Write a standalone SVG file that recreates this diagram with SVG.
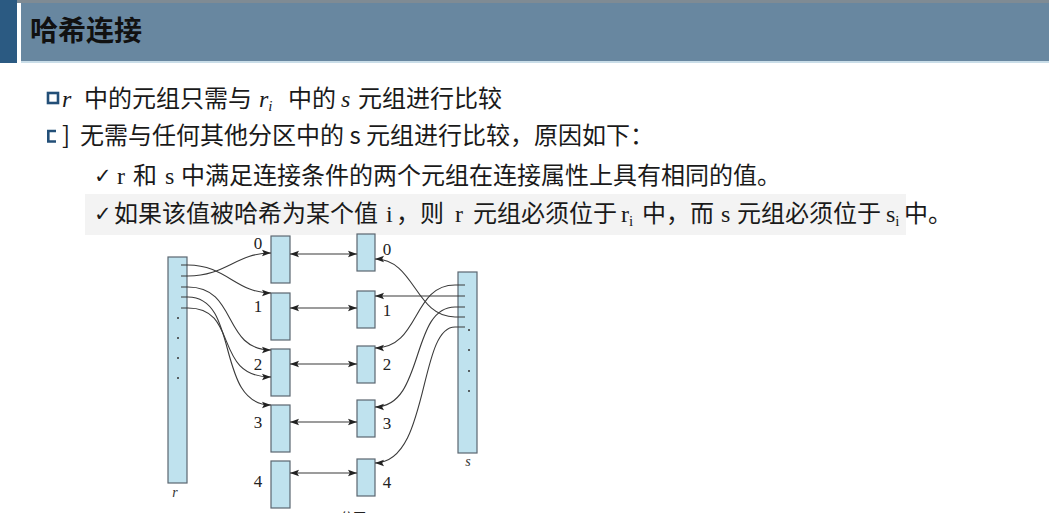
<svg xmlns="http://www.w3.org/2000/svg" width="1049" height="513" viewBox="0 0 1049 513">
  <style>
    .title { font-family: "Noto Sans CJK SC", "Noto Sans", sans-serif; font-weight: bold; font-size: 28px; fill: #111; }
    .body { font-family: "Noto Sans CJK SC", "Noto Sans", sans-serif; font-size: 24px; fill: #1a1a1a; }
    .math { font-family: "Liberation Serif", "DejaVu Serif", serif; font-style: italic; font-size: 24px; fill: #1a1a1a; }
    .rm { font-family: "Liberation Serif", "DejaVu Serif", serif; font-size: 24px; fill: #1a1a1a; }
    .sub { font-size: 15px; }
    .check { font-family: "DejaVu Sans", sans-serif; font-size: 21px; fill: #1a1a1a; }
    .bucket { fill: #bfe2ee; stroke: #5b6670; stroke-width: 1.2; }
    .num { font-family: "Liberation Serif", "DejaVu Serif", serif; font-size: 17px; fill: #222; text-anchor: middle; }
    .rel { font-family: "Liberation Serif", "DejaVu Serif", serif; font-style: italic; font-size: 14px; fill: #333; text-anchor: middle; }
    .link { fill: none; stroke: #3a3a3a; stroke-width: 1.1; }
  </style>
  <defs>
    <marker id="head" markerUnits="userSpaceOnUse" markerWidth="10" markerHeight="8" refX="9" refY="4" orient="auto-start-reverse">
      <path d="M0,0.8 L9,4 L0,7.2 L1.8,4 z" fill="#222"/>
    </marker>
  </defs>

  <rect width="1049" height="513" fill="#ffffff"/>

  <!-- header bar -->
  <g id="header">
    <rect x="0" y="0" width="1049" height="3" fill="#7f8b94"/>
    <rect x="21" y="3" width="1028" height="58" fill="#6887a0"/>
    <rect x="21" y="61" width="1028" height="2" fill="#c9dde8"/>
    <rect x="0" y="0" width="17" height="63" fill="#2b5a82"/>
    <text class="title" x="30" y="41">哈希连接</text>
  </g>

  <!-- bullet text -->
  <g id="bullets">
    <rect x="48" y="93" width="10" height="10" fill="none" stroke="#234f78" stroke-width="2.6"/>
    <text class="math" x="62" y="107">r</text>
    <text class="body" x="84" y="107">中的元组只需与</text>
    <text class="math" x="259" y="107">r<tspan class="sub" dy="4">i</tspan></text>
    <text class="body" x="288" y="107">中的</text>
    <text class="math" x="341" y="107">s</text>
    <text class="body" x="358" y="107">元组进行比较</text>

    <path d="M56,131 H48.3 V141.5 H56" fill="none" stroke="#234f78" stroke-width="2.6"/>
    <text class="body" x="62" y="144">]</text>
    <text class="body" x="80" y="144">无需与任何其他分区中的 s 元组进行比较，原因如下：</text>

    <text class="check" x="94" y="183">✓</text>
    <text class="rm" x="117" y="184">r</text>
    <text class="body" x="133" y="184">和</text>
    <text class="rm" x="165" y="184">s</text>
    <text class="body" x="181" y="184">中满足连接条件的两个元组在连接属性上具有相同的值。</text>

    <rect x="85" y="194" width="821" height="41" fill="#f3f3f3"/>
    <text class="check" x="94" y="221">✓</text>
    <text class="body" x="114" y="222">如果该值被哈希为某个值</text>
    <text class="rm" x="386" y="222">i</text>
    <text class="body" x="396" y="222">，则</text>
    <text class="rm" x="455" y="222">r</text>
    <text class="body" x="473" y="222">元组必须位于</text>
    <text class="rm" x="621" y="222">r<tspan class="sub" dy="4">i</tspan></text>
    <text class="body" x="642" y="222">中，而</text>
    <text class="rm" x="721" y="222">s</text>
    <text class="body" x="737" y="222">元组必须位于</text>
    <text class="rm" x="886" y="222">s<tspan class="sub" dy="4">i</tspan></text>
    <text class="body" x="904" y="222">中。</text>
  </g>

  <!-- relation r -->
  <g id="rel-r">
    <rect class="bucket" x="168" y="257" width="19" height="226"/>
    <g fill="#333">
      <circle cx="178" cy="318" r="1"/>
      <circle cx="178" cy="338" r="1"/>
      <circle cx="178" cy="358" r="1"/>
      <circle cx="178" cy="378" r="1"/>
    </g>
    <text class="rel" x="175" y="497">r</text>
  </g>

  <!-- relation s -->
  <g id="rel-s">
    <rect class="bucket" x="458" y="272" width="19" height="181"/>
    <g fill="#333">
      <circle cx="469" cy="330" r="1"/>
      <circle cx="469" cy="350" r="1"/>
      <circle cx="469" cy="371" r="1"/>
      <circle cx="469" cy="391" r="1"/>
    </g>
    <text class="rel" x="468" y="466">s</text>
  </g>

  <!-- partitions of r -->
  <g id="r0"><rect class="bucket" x="271" y="236" width="19" height="47"/><text class="num" x="258" y="249">0</text></g>
  <g id="r1"><rect class="bucket" x="271" y="293" width="19" height="47"/><text class="num" x="258" y="312">1</text></g>
  <g id="r2"><rect class="bucket" x="271" y="349" width="19" height="47"/><text class="num" x="258" y="370">2</text></g>
  <g id="r3"><rect class="bucket" x="271" y="405" width="19" height="47"/><text class="num" x="258" y="428">3</text></g>
  <g id="r4"><rect class="bucket" x="271" y="461" width="19" height="47"/><text class="num" x="258" y="487">4</text></g>

  <!-- partitions of s -->
  <g id="s0"><rect class="bucket" x="357" y="234" width="18" height="37"/><text class="num" x="387" y="255">0</text></g>
  <g id="s1"><rect class="bucket" x="357" y="291" width="18" height="37"/><text class="num" x="387" y="316">1</text></g>
  <g id="s2"><rect class="bucket" x="357" y="346" width="18" height="37"/><text class="num" x="387" y="370">2</text></g>
  <g id="s3"><rect class="bucket" x="357" y="400" width="18" height="37"/><text class="num" x="387" y="429">3</text></g>
  <g id="s4"><rect class="bucket" x="357" y="459" width="18" height="37"/><text class="num" x="387" y="488">4</text></g>

  <!-- connectors -->
  <g id="connectors">
    <!-- partition pairs -->
    <path class="link" d="M290,254 H357" marker-start="url(#head)" marker-end="url(#head)"/>
    <path class="link" d="M290,308 H357" marker-start="url(#head)" marker-end="url(#head)"/>
    <path class="link" d="M290,364 H357" marker-start="url(#head)" marker-end="url(#head)"/>
    <path class="link" d="M290,422 H357" marker-start="url(#head)" marker-end="url(#head)"/>
    <path class="link" d="M290,473 H357" marker-start="url(#head)" marker-end="url(#head)"/>

    <!-- r tuples to r partitions -->
    <path class="link" d="M181,265 H188 C226,265 236,293 271,293" marker-end="url(#head)"/>
    <path class="link" d="M181,276 H188 C226,276 236,253 271,253" marker-end="url(#head)"/>
    <path class="link" d="M181,287 H188 C238,287 222,350 271,350" marker-end="url(#head)"/>
    <path class="link" d="M181,297 H188 C240,297 215,405 271,405" marker-end="url(#head)"/>
    <path class="link" d="M181,308 H188 C240,308 212,377 271,377" marker-end="url(#head)"/>

    <!-- s tuples to s partitions -->
    <path class="link" d="M465,285 H455 C412,285 420,348 375,348" marker-end="url(#head)"/>
    <path class="link" d="M465,296 H375" marker-end="url(#head)"/>
    <path class="link" d="M465,307 H455 C410,307 425,407 375,407" marker-end="url(#head)"/>
    <path class="link" d="M465,317 H455 C415,317 415,259 375,259" marker-end="url(#head)"/>
    <path class="link" d="M465,327 H455 C418,327 430,463 375,463" marker-end="url(#head)"/>
  </g>

  <!-- caption, cut by the lower edge -->
  <text x="340" y="522" font-family="Noto Sans CJK SC, sans-serif" font-size="13" fill="#222">分区</text>
</svg>
